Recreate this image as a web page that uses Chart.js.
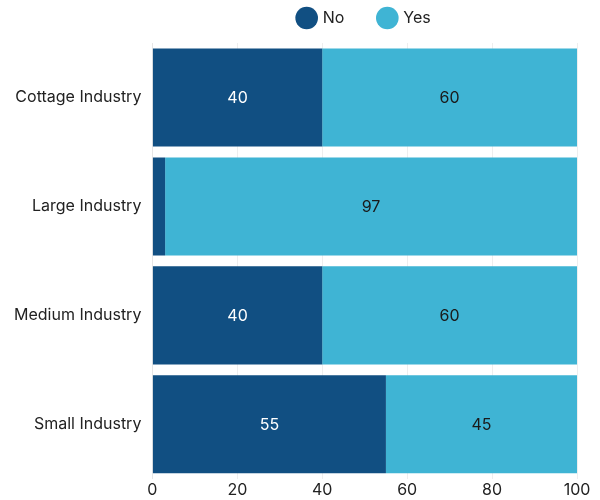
<!DOCTYPE html>
<html>
<head>
<meta charset="utf-8">
<script src="https://cdn.jsdelivr.net/npm/chart.js@4/dist/chart.umd.min.js"></script>
<style>
  html, body { margin: 0; padding: 0; background: #ffffff; }
  #wrap { width: 600px; height: 500px; }
</style>
</head>
<body>
<div id="wrap"><canvas id="c" width="600" height="500"></canvas></div>
<script>
const categories = ["Cottage Industry", "Large Industry", "Medium Industry", "Small Industry"];
const noValues = [40, 3, 40, 55];
const yesValues = [60, 97, 60, 45];
const xTicks = [0, 20, 40, 60, 80, 100];

const FONT = "Inter, 'Noto Sans', sans-serif";
const LEGEND_HEIGHT = 68;

// Writes each segment's value in its centre, skipping slivers too narrow to hold text
const valueLabels = {
  id: "valueLabels",
  afterDatasetsDraw(chart) {
    const ctx = chart.ctx;
    ctx.save();
    ctx.font = "16px " + FONT;
    ctx.textAlign = "center";
    ctx.textBaseline = "middle";
    chart.data.datasets.forEach((ds, di) => {
      const meta = chart.getDatasetMeta(di);
      meta.data.forEach((bar, i) => {
        const w = Math.abs(bar.x - bar.base);
        if (w < 30) return;
        ctx.fillStyle = ds.labelColor;
        ctx.fillText(String(ds.data[i]), (bar.x + bar.base) / 2, bar.y + 1);
      });
    });
    ctx.restore();
  }
};

// Keeps the wide spacing between legend items while fixing the legend's total height
const legendHeight = {
  id: "legendHeight",
  beforeInit(chart) {
    const legend = chart.legend;
    const fit = legend.fit;
    legend.fit = function () {
      fit.call(this);
      this.height = LEGEND_HEIGHT;
    };
  }
};

new Chart(document.getElementById("c"), {
  type: "bar",
  data: {
    labels: categories,
    datasets: [
      { label: "No", data: noValues, backgroundColor: "#114f82", labelColor: "#ffffff" },
      { label: "Yes", data: yesValues, backgroundColor: "#3fb4d4", labelColor: "#1a1a1a" }
    ]
  },
  options: {
    indexAxis: "y",
    responsive: false,
    animation: false,
    devicePixelRatio: 1,
    layout: { padding: { left: 3, right: 23, top: -25, bottom: -2 } },
    datasets: { bar: { barPercentage: 0.9, categoryPercentage: 1.0, borderWidth: 0 } },
    plugins: {
      legend: {
        position: "top",
        fullSize: false,
        labels: {
          usePointStyle: true,
          pointStyle: "circle",
          boxWidth: 18,
          boxHeight: 18,
          padding: 35,
          color: "#222222",
          font: { family: FONT, size: 16 }
        }
      },
      tooltip: { enabled: false }
    },
    scales: {
      x: {
        stacked: true,
        min: 0,
        max: 100,
        afterBuildTicks(axis) { axis.ticks = xTicks.map(v => ({ value: v })); },
        ticks: { color: "#222222", font: { family: FONT, size: 16 }, padding: 2 },
        grid: { color: "#eeeeee", drawTicks: false },
        border: { display: false }
      },
      y: {
        stacked: true,
        ticks: { color: "#222222", font: { family: FONT, size: 16 }, padding: 11 },
        grid: { display: false, drawTicks: false },
        border: { display: true, color: "#e6e6e6" }
      }
    }
  },
  plugins: [valueLabels, legendHeight]
});
</script>
</body>
</html>
